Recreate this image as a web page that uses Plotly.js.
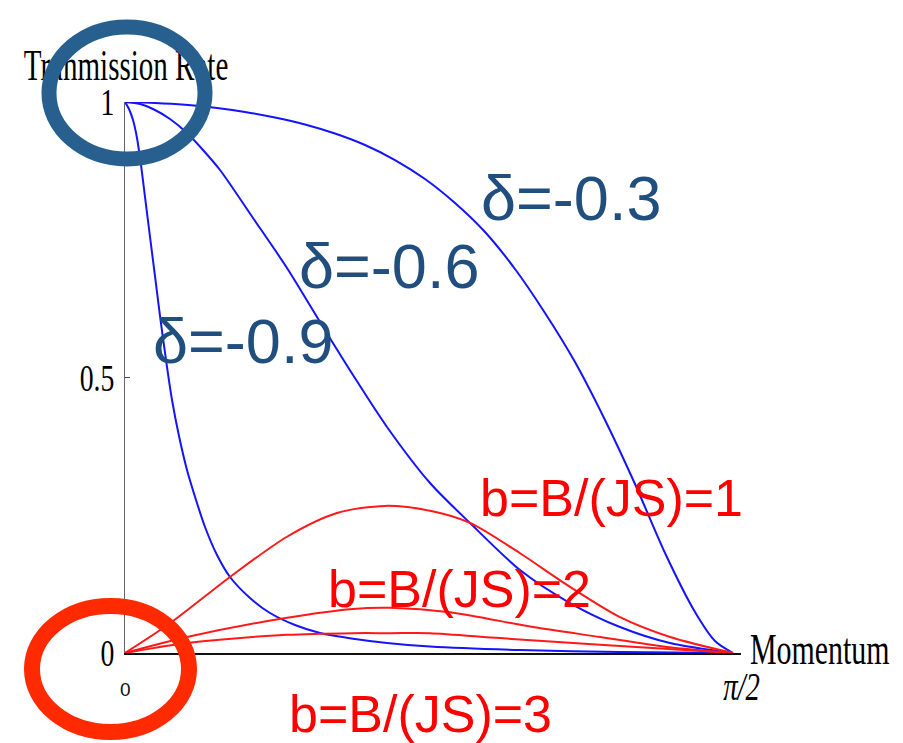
<!DOCTYPE html>
<html>
<head>
<meta charset="utf-8">
<script src="https://cdn.plot.ly/plotly-3.0.1.min.js"></script>
<style>
  html, body { margin: 0; padding: 0; background: #ffffff; }
  #chart { width: 903px; height: 743px; }
</style>
</head>
<body>
<div id="chart"></div>
<script>
// Transmission rate vs. momentum (0 .. pi/2)

// delta = -0.3
const momD03 = [0, 0.0765, 0.153, 0.2295, 0.306, 0.3825, 0.459, 0.5355, 0.612, 0.6885, 0.765, 0.8415, 0.918, 0.9945, 1.071, 1.1475, 1.224, 1.3005, 1.377, 1.4535, 1.5045, 1.5504];
const rateD03 = [1.0, 0.9982, 0.9949, 0.9895, 0.9819, 0.9719, 0.9592, 0.9428, 0.9220, 0.8947, 0.8603, 0.8167, 0.7641, 0.6969, 0.6171, 0.5281, 0.4229, 0.3067, 0.1815, 0.0744, 0.0218, 0];

// delta = -0.6
const momD06 = [0, 0.0383, 0.0765, 0.1148, 0.1581, 0.1989, 0.2423, 0.3264, 0.4131, 0.4973, 0.5814, 0.6681, 0.7778, 0.8798, 1.0073, 1.1348, 1.2623, 1.3898, 1.5504];
const rateD06 = [1.0, 0.9964, 0.9855, 0.9691, 0.9437, 0.9129, 0.8766, 0.7895, 0.6987, 0.6007, 0.5045, 0.4102, 0.3085, 0.2359, 0.1506, 0.0907, 0.0472, 0.0181, 0];

// delta = -0.9
const momD09 = [0, 0.0102, 0.0204, 0.0306, 0.0408, 0.0510, 0.0638, 0.0765, 0.0893, 0.1046, 0.1199, 0.1377, 0.1581, 0.1811, 0.2040, 0.2346, 0.2678, 0.3188, 0.3698, 0.4335, 0.4973, 0.5865, 0.6681, 0.7778, 1.0073, 1.2623, 1.5504];
const rateD09 = [1.0, 0.9873, 0.9673, 0.9347, 0.8857, 0.8276, 0.7550, 0.6842, 0.6116, 0.5318, 0.4592, 0.3938, 0.3321, 0.2777, 0.2287, 0.1779, 0.1379, 0.0998, 0.0726, 0.0508, 0.0363, 0.0254, 0.0181, 0.0118, 0.0054, 0.0018, 0];

// b = B/(JS) = 1
const momB1 = [0, 0.1148, 0.2678, 0.4131, 0.5406, 0.6630, 0.7778, 0.8798, 1.0073, 1.1348, 1.2623, 1.3898, 1.5504];
const rateB1 = [0, 0.054, 0.138, 0.211, 0.254, 0.267, 0.258, 0.236, 0.181, 0.120, 0.065, 0.029, 0];

// b = B/(JS) = 2
const momB2 = [0, 0.1581, 0.4131, 0.5814, 0.6758, 0.8288, 1.0404, 1.2113, 1.3821, 1.5504];
const rateB2 = [0, 0.029, 0.064, 0.080, 0.082, 0.074, 0.047, 0.029, 0.011, 0];

// b = B/(JS) = 3
const momB3 = [0, 0.1581, 0.4131, 0.5814, 0.6758, 0.7778, 0.9563, 1.2113, 1.5504];
const rateB3 = [0, 0.018, 0.033, 0.036, 0.036, 0.036, 0.027, 0.015, 0];

// axis ticks
const yTickVals = [0, 0.5, 1];
const yTickText = ['0', '0.5', '1'];
const xTickVals = [0, Math.PI / 2];
const xTickText = ['0', 'π/2'];

const BLUE = 'rgb(20,20,255)';
const RED = 'rgb(255,25,25)';
const LABEL_BLUE = '#1F4E7F';
const SERIF = 'Liberation Serif, Times New Roman, serif';
const SANS = 'Liberation Sans, Arial, sans-serif';

function curve(x, y, color) {
  return {
    x: x, y: y, type: 'scatter', mode: 'lines',
    line: { color: color, width: 2, shape: 'spline', smoothing: 0.8 },
    hoverinfo: 'skip', showlegend: false
  };
}

const data = [
  curve(momD03, rateD03, BLUE),
  curve(momD06, rateD06, BLUE),
  curve(momD09, rateD09, BLUE),
  curve(momB1, rateB1, RED),
  curve(momB2, rateB2, RED),
  curve(momB3, rateB3, RED)
];

function label(text, x, y, size, color, family, xanchor) {
  return {
    text: text, xref: 'paper', yref: 'paper', x: x, y: y,
    xanchor: xanchor || 'center', yanchor: 'middle', showarrow: false,
    font: { family: family, size: size, color: color }
  };
}

const layout = {
  width: 903, height: 743,
  margin: { l: 125, r: 162, t: 102, b: 90, pad: 0 },
  paper_bgcolor: '#ffffff', plot_bgcolor: '#ffffff',
  showlegend: false,
  xaxis: {
    range: [0, Math.PI / 2], showgrid: false, zeroline: false,
    showline: true, linecolor: '#111111', linewidth: 1.6,
    ticks: 'inside', ticklen: 5, tickcolor: '#111111',
    tickvals: xTickVals, showticklabels: false
  },
  yaxis: {
    range: [0, 1], showgrid: false, zeroline: false,
    showline: true, linecolor: '#666666', linewidth: 1,
    ticks: 'inside', ticklen: 5, tickcolor: '#444444',
    tickvals: yTickVals, ticktext: yTickText,
    tickfont: { family: SERIF, size: 38, color: '#000000' },
    ticklabelstandoff: 2
  },
  annotations: [
    label(xTickText[0], 0, -0.066, 19, '#111111', SANS),
    label('<i>' + xTickText[1] + '</i>', 1.0, -0.06, 40, '#000000', SERIF),
    label('Momentum', 1.0114, 0.006, 44, '#000000', SERIF, 'left'),
    label('δ=-0.3', 0.724, 0.826, 63, LABEL_BLUE, SANS),
    label('δ=-0.6', 0.4286, 0.703, 63, LABEL_BLUE, SANS),
    label('δ=-0.9', 0.1916, 0.567, 63, LABEL_BLUE, SANS),
    label('b=B/(JS)=1', 0.789, 0.282, 52, '#FF0000', SANS),
    label('b=B/(JS)=2', 0.5438, 0.117, 52, '#FF0000', SANS),
    label('b=B/(JS)=3', 0.4805, -0.110, 52, '#FF0000', SANS)
  ],
  shapes: [
    // axis title, drawn as a shape label so the highlight ring sits over it
    {
      type: 'rect', xref: 'paper', yref: 'paper',
      x0: -0.1672, x1: 0.1705, y0: 1.0434, y1: 1.1087,
      line: { width: 0 }, fillcolor: 'rgba(0,0,0,0)', layer: 'above',
      label: {
        text: 'Tranmission Rate', textposition: 'middle center',
        font: { family: SERIF, size: 44, color: '#000000' }
      }
    },
    // highlight ring around the top of the y axis
    {
      type: 'circle', xref: 'paper', yref: 'paper',
      x0: -0.1234, x1: 0.1299, y0: 0.8966, y1: 1.1361,
      line: { color: '#27608F', width: 15 }, fillcolor: 'rgba(0,0,0,0)', layer: 'above'
    },
    // highlight ring around the origin
    {
      type: 'circle', xref: 'paper', yref: 'paper',
      x0: -0.151, x1: 0.1039, y0: -0.1434, y1: 0.0853,
      line: { color: '#FF2A00', width: 16 }, fillcolor: 'rgba(0,0,0,0)', layer: 'above'
    }
  ]
};

// The serif labels use a narrow, condensed face: squeeze them horizontally
// around their anchor point.
function squeeze(nodes, s, anchor) {
  nodes.forEach(function (t) {
    const bb = t.getBBox();
    const ax = anchor === 'end' ? bb.x + bb.width
      : anchor === 'start' ? bb.x : bb.x + bb.width / 2;
    const prev = t.getAttribute('transform') || '';
    t.setAttribute('transform', prev + ' translate(' + (ax * (1 - s)) + ',0) scale(' + s + ',1)');
  });
}

Plotly.newPlot('chart', data, layout, { displayModeBar: false, staticPlot: true }).then(function (gd) {
  squeeze(gd.querySelectorAll('.ytick text'), 0.73, 'end');
  squeeze(gd.querySelectorAll('.shapelayer text'), 0.66, 'middle');
  squeeze(gd.querySelectorAll('.annotation[data-index="1"] text'), 0.72, 'middle');
  squeeze(gd.querySelectorAll('.annotation[data-index="2"] text'), 0.68, 'start');
});
</script>
</body>
</html>
